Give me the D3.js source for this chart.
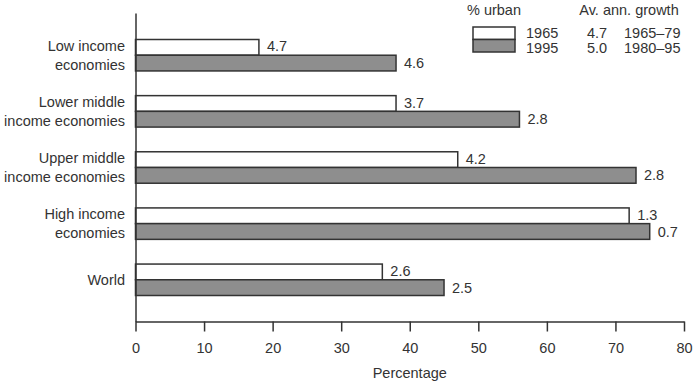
<!DOCTYPE html>
<html><head><meta charset="utf-8">
<script src="https://cdn.jsdelivr.net/npm/d3@7"></script>
<style>
html,body{margin:0;padding:0;background:#fff;}
svg{display:block;font-family:"Liberation Sans",Arial,Helvetica,sans-serif;}
</style></head>
<body><svg id="chart" width="695" height="382"></svg>
<script>
const categories = [["Low income","economies"],["Lower middle","income economies"],["Upper middle","income economies"],["High income","economies"],["World"]];
const catKeys = ["Low income economies","Lower middle income economies","Upper middle income economies","High income economies","World"];
const series = ["1965","1995"];
const urban1965 = [18, 38, 47, 72, 36];
const urban1995 = [38, 56, 73, 75, 45];
const growth6579 = ["4.7","3.7","4.2","1.3","2.6"];
const growth8095 = ["4.6","2.8","2.8","0.7","2.5"];
const xTicks = [0,10,20,30,40,50,60,70,80];
const legendGrowth = ["4.7","5.0"];
const legendPeriods = ["1965–79","1980–95"];

const svg = d3.select("#chart");
const ink = "#333";
const fills = ["#ffffff","#8e8e8e"];
const fs = 14.5;

const x = d3.scaleLinear().domain([0,80]).range([135.5,684]);
const y0 = d3.scaleBand().domain(catKeys).range([39.5,295.5]).paddingInner(0.44).paddingOuter(0);
const y1 = d3.scaleBand().domain(series).range([0,y0.bandwidth()]);

const valuesBySeries = [urban1965, urban1995];
const labelsBySeries = [growth6579, growth8095];

// bars
series.forEach((s,si)=>{
  const g = svg.append("g");
  g.selectAll("rect").data(catKeys).join("rect")
    .attr("x", x(0))
    .attr("y", d=>y0(d)+y1(s))
    .attr("width", (d,i)=>x(valuesBySeries[si][i])-x(0))
    .attr("height", y1.bandwidth())
    .attr("fill", fills[si])
    .attr("stroke", ink).attr("stroke-width",1.5);
  g.selectAll("text").data(catKeys).join("text")
    .attr("x", (d,i)=>x(valuesBySeries[si][i])+8)
    .attr("y", d=>y0(d)+y1(s)+y1.bandwidth()/2 - (si===0?1:0))
    .attr("dy","0.35em")
    .attr("font-size",fs).attr("fill",ink)
    .text((d,i)=>labelsBySeries[si][i]);
});

// x axis
const xAxis = d3.axisBottom(x).tickValues(xTicks).tickSize(10).tickSizeOuter(0).tickPadding(11);
const gx = svg.append("g").attr("transform","translate(0,321.5)").call(xAxis);
gx.select(".domain").attr("stroke",ink).attr("stroke-width",1.5);
gx.selectAll(".tick line").attr("stroke",ink).attr("stroke-width",1.5);
gx.selectAll(".tick text").attr("font-size",fs).attr("fill",ink).attr("font-family","Liberation Sans, Arial, sans-serif");

// y axis line
const yAxis = d3.axisLeft(d3.scaleLinear().range([13,321.5])).ticks(0).tickSize(0).tickSizeOuter(0);
const gy = svg.append("g").attr("transform",`translate(${x(0)},0)`).call(yAxis);
gy.select(".domain").attr("stroke",ink).attr("stroke-width",1.5);

// category labels
categories.forEach((lines,i)=>{
  const cy = y0(catKeys[i]) + y0.bandwidth()/2;
  const lh = 19;
  const t = svg.append("text").attr("text-anchor","end").attr("font-size",fs).attr("fill",ink);
  lines.forEach((ln,j)=>{
    t.append("tspan").attr("x",125)
      .attr("y", cy + (j-(lines.length-1)/2)*lh)
      .attr("dy","0.35em").text(ln);
  });
});

// x title
svg.append("text").attr("x",(x(0)+x(80))/2).attr("y",373).attr("dy","0.35em")
  .attr("text-anchor","middle").attr("font-size",fs).attr("fill",ink).text("Percentage");

// legend
svg.append("text").attr("x",494).attr("y",10).attr("dy","0.35em").attr("text-anchor","middle")
  .attr("font-size",fs).attr("fill",ink).text("% urban");
svg.append("text").attr("x",629).attr("y",10).attr("dy","0.35em").attr("text-anchor","middle")
  .attr("font-size",fs).attr("fill",ink).text("Av. ann. growth");
series.forEach((s,i)=>{
  const ty = 27 + i*12.5;
  svg.append("rect").attr("x",473).attr("y",ty).attr("width",42).attr("height",12.5)
    .attr("fill",fills[i]).attr("stroke",ink).attr("stroke-width",1.5);
  const cy = 33 + i*15;
  svg.append("text").attr("x",526).attr("y",cy).attr("dy","0.35em").attr("font-size",fs).attr("fill",ink).text(s);
  svg.append("text").attr("x",587).attr("y",cy).attr("dy","0.35em").attr("font-size",fs).attr("fill",ink).text(legendGrowth[i]);
  svg.append("text").attr("x",624).attr("y",cy).attr("dy","0.35em").attr("font-size",fs).attr("fill",ink).text(legendPeriods[i]);
});
</script>
</body></html>
